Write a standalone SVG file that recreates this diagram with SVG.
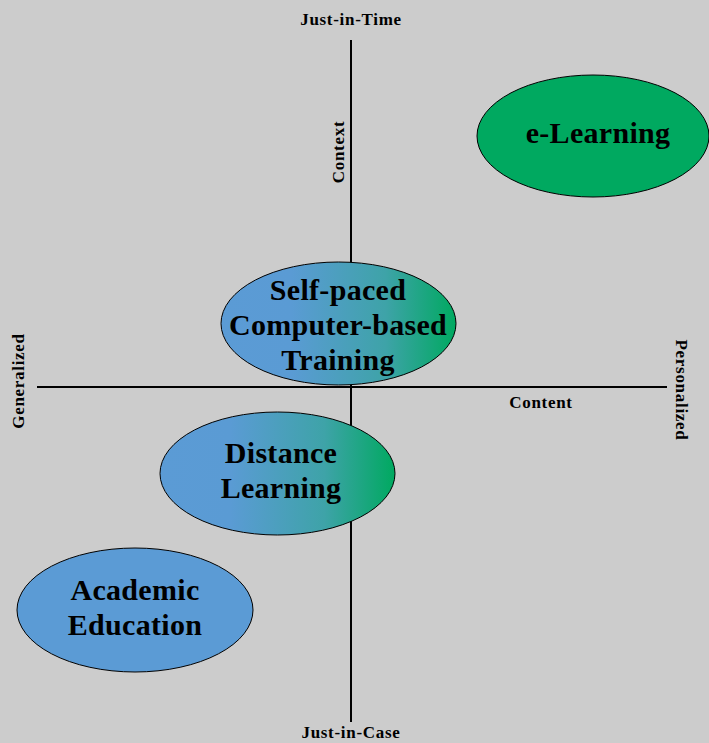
<svg xmlns="http://www.w3.org/2000/svg" width="709" height="743" viewBox="0 0 709 743">
  <defs>
    <linearGradient id="blueGreen" x1="0" y1="0" x2="1" y2="0">
      <stop offset="0" stop-color="#5b9bd5"/>
      <stop offset="0.3" stop-color="#5a9bd4"/>
      <stop offset="0.7" stop-color="#3ea3a8"/>
      <stop offset="1" stop-color="#00a960"/>
    </linearGradient>
    <style>
      .bg { fill: #cccccc; }
      .axis { stroke: #000000; stroke-width: 2; fill: none; }
      .node { stroke: #000000; stroke-width: 1; }
      .blue { fill: #5b9bd5; }
      .green { fill: #00a960; }
      .grad { fill: url(#blueGreen); }
      .label { font-family: "Liberation Serif", "Times New Roman", serif; font-weight: bold; font-size: 30px; letter-spacing: 0.3px; fill: #000000; text-anchor: middle; }
      .axislabel { font-family: "Liberation Serif", "Times New Roman", serif; font-weight: bold; font-size: 17px; letter-spacing: 0.7px; fill: #000000; text-anchor: middle; }
    </style>
  </defs>

  <rect class="bg" x="0" y="0" width="709" height="743"/>

  <!-- quadrant axes -->
  <g id="connectors">
    <line class="axis" x1="351" y1="40" x2="351" y2="722"/>
    <line class="axis" x1="37" y1="387" x2="667" y2="387"/>
  </g>

  <!-- axis labels -->
  <g id="axis-labels">
    <text class="axislabel" x="351" y="25">Just-in-Time</text>
    <text class="axislabel" x="351" y="738">Just-in-Case</text>
    <text class="axislabel" x="541" y="408">Content</text>
    <text class="axislabel" transform="translate(344,152) rotate(-90)">Context</text>
    <text class="axislabel" transform="translate(24,381) rotate(-90)">Generalized</text>
    <text class="axislabel" transform="translate(676,390) rotate(90)">Personalized</text>
  </g>

  <g id="e-learning">
    <ellipse class="node green" cx="593" cy="136" rx="116" ry="61"/>
    <text class="label" x="598" y="143">e-Learning</text>
  </g>

  <g id="self-paced-cbt">
    <ellipse class="node grad" cx="338.5" cy="323.5" rx="117.5" ry="61.5"/>
    <text class="label" x="338" y="300">Self-paced</text>
    <text class="label" x="338" y="335">Computer-based</text>
    <text class="label" x="338" y="370">Training</text>
  </g>

  <g id="distance-learning">
    <ellipse class="node grad" cx="277.5" cy="473.5" rx="117.5" ry="61.5"/>
    <text class="label" x="281" y="463">Distance</text>
    <text class="label" x="281" y="498">Learning</text>
  </g>

  <g id="academic-education">
    <ellipse class="node blue" cx="135" cy="610" rx="118" ry="62"/>
    <text class="label" x="135" y="600">Academic</text>
    <text class="label" x="135" y="635">Education</text>
  </g>
</svg>
